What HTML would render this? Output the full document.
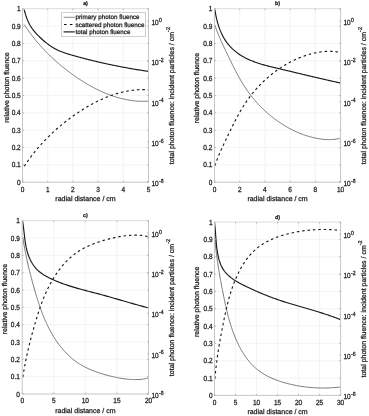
<!DOCTYPE html>
<html><head><meta charset="utf-8"><title>Photon fluence</title>
<style>
html,body{margin:0;padding:0;background:#fff;}
body{width:369px;height:416px;overflow:hidden;font-family:"Liberation Sans",sans-serif;}
svg{display:block;}
text{font-family:"Liberation Sans",sans-serif;text-rendering:geometricPrecision;stroke:#1a1a1a;stroke-width:0.25px;}
svg{filter:grayscale(1);}
</style></head><body>
<svg width="369" height="416" viewBox="0 0 369 416" font-family="'Liberation Sans', sans-serif" font-size="7" fill="#1a1a1a">
<rect width="369" height="416" fill="#fff"/>
<g><path d="M47.70,8.70 V182.20 M72.90,8.70 V182.20 M98.10,8.70 V182.20 M123.30,8.70 V182.20 M22.50,164.85 H148.50 M22.50,147.50 H148.50 M22.50,130.15 H148.50 M22.50,112.80 H148.50 M22.50,95.45 H148.50 M22.50,78.10 H148.50 M22.50,60.75 H148.50 M22.50,43.40 H148.50 M22.50,26.05 H148.50" stroke="#ececec" stroke-width="0.6" fill="none"/>
<path d="M24.20,24.60 L24.63,25.24 L25.05,25.88 L25.48,26.52 L25.91,27.16 L26.34,27.79 L26.78,28.43 L27.21,29.06 L27.66,29.68 L28.10,30.31 L28.54,30.93 L28.99,31.56 L29.44,32.17 L29.90,32.79 L30.35,33.41 L30.81,34.02 L31.27,34.63 L31.73,35.24 L32.20,35.84 L32.67,36.45 L33.14,37.05 L33.61,37.65 L34.08,38.24 L34.56,38.84 L35.04,39.43 L35.52,40.02 L36.01,40.61 L36.49,41.20 L36.98,41.78 L37.48,42.36 L37.97,42.94 L38.47,43.52 L38.97,44.09 L39.47,44.67 L39.97,45.24 L40.48,45.80 L40.98,46.37 L41.49,46.93 L42.01,47.50 L42.52,48.06 L43.04,48.61 L43.56,49.17 L44.08,49.72 L44.60,50.27 L45.13,50.82 L45.66,51.37 L46.19,51.91 L46.72,52.46 L47.26,53.00 L47.79,53.54 L48.33,54.07 L48.87,54.61 L49.42,55.14 L49.96,55.67 L50.51,56.19 L51.06,56.72 L51.61,57.24 L52.17,57.76 L52.73,58.28 L53.28,58.80 L53.84,59.32 L54.41,59.83 L54.97,60.34 L55.54,60.85 L56.11,61.35 L56.68,61.86 L57.25,62.36 L57.83,62.86 L58.40,63.36 L58.98,63.85 L59.56,64.35 L60.15,64.84 L60.73,65.33 L61.32,65.82 L61.91,66.30 L62.50,66.79 L63.09,67.27 L63.69,67.75 L64.28,68.22 L64.88,68.70 L65.48,69.17 L66.09,69.64 L66.69,70.11 L67.30,70.58 L67.91,71.04 L68.52,71.51 L69.13,71.97 L69.74,72.43 L70.36,72.88 L70.98,73.34 L71.60,73.79 L72.22,74.24 L72.84,74.69 L73.47,75.14 L74.09,75.58 L74.72,76.02 L75.35,76.46 L75.98,76.90 L76.62,77.34 L77.25,77.77 L77.89,78.20 L78.53,78.63 L79.17,79.06 L79.81,79.48 L80.46,79.90 L81.10,80.32 L81.75,80.73 L82.40,81.15 L83.05,81.56 L83.71,81.96 L84.36,82.37 L85.02,82.77 L85.68,83.17 L86.34,83.57 L87.00,83.96 L87.66,84.35 L88.32,84.73 L88.99,85.12 L89.66,85.50 L90.33,85.87 L91.00,86.25 L91.67,86.62 L92.35,86.99 L93.02,87.35 L93.70,87.71 L94.38,88.06 L95.06,88.42 L95.74,88.77 L96.43,89.11 L97.11,89.45 L97.80,89.79 L98.49,90.12 L99.18,90.45 L99.87,90.78 L100.56,91.10 L101.26,91.42 L101.95,91.73 L102.65,92.04 L103.35,92.35 L104.05,92.65 L104.75,92.95 L105.46,93.24 L106.16,93.53 L106.87,93.82 L107.58,94.10 L108.29,94.37 L109.00,94.64 L109.71,94.91 L110.42,95.17 L111.14,95.43 L111.85,95.68 L112.57,95.93 L113.29,96.17 L114.01,96.41 L114.73,96.64 L115.46,96.87 L116.18,97.09 L116.91,97.31 L117.64,97.52 L118.36,97.73 L119.09,97.93 L119.83,98.13 L120.56,98.32 L121.29,98.50 L122.03,98.69 L122.76,98.86 L123.50,99.03 L124.24,99.20 L124.98,99.35 L125.72,99.51 L126.47,99.66 L127.21,99.80 L127.96,99.93 L128.70,100.06 L129.45,100.19 L130.20,100.31 L130.95,100.42 L131.70,100.52 L132.45,100.62 L133.21,100.71 L133.96,100.80 L134.72,100.88 L135.48,100.95 L136.23,101.02 L136.99,101.08 L137.75,101.13 L138.52,101.18 L139.28,101.22 L140.04,101.25 L140.81,101.27 L141.57,101.29 L142.34,101.30 L143.10,101.30 L143.87,101.30 L144.64,101.29 L145.41,101.27 L146.18,101.24 L146.96,101.21 L147.73,101.16 L148.50,101.11" stroke="#4c4c4c" stroke-width="0.75" fill="none" stroke-linejoin="round"/>
<path d="M24.20,166.30 L24.63,165.66 L25.05,165.02 L25.48,164.38 L25.91,163.74 L26.34,163.11 L26.78,162.47 L27.21,161.84 L27.66,161.22 L28.10,160.59 L28.54,159.97 L28.99,159.34 L29.44,158.73 L29.90,158.11 L30.35,157.49 L30.81,156.88 L31.27,156.27 L31.73,155.66 L32.20,155.06 L32.67,154.45 L33.14,153.85 L33.61,153.25 L34.08,152.66 L34.56,152.06 L35.04,151.47 L35.52,150.88 L36.01,150.29 L36.49,149.70 L36.98,149.12 L37.48,148.54 L37.97,147.96 L38.47,147.38 L38.97,146.81 L39.47,146.23 L39.97,145.66 L40.48,145.10 L40.98,144.53 L41.49,143.97 L42.01,143.40 L42.52,142.84 L43.04,142.29 L43.56,141.73 L44.08,141.18 L44.60,140.63 L45.13,140.08 L45.66,139.53 L46.19,138.99 L46.72,138.44 L47.26,137.90 L47.79,137.36 L48.33,136.83 L48.87,136.29 L49.42,135.76 L49.96,135.23 L50.51,134.71 L51.06,134.18 L51.61,133.66 L52.17,133.14 L52.73,132.62 L53.28,132.10 L53.84,131.58 L54.41,131.07 L54.97,130.56 L55.54,130.05 L56.11,129.55 L56.68,129.04 L57.25,128.54 L57.83,128.04 L58.40,127.54 L58.98,127.05 L59.56,126.55 L60.15,126.06 L60.73,125.57 L61.32,125.08 L61.91,124.60 L62.50,124.11 L63.09,123.63 L63.69,123.15 L64.28,122.68 L64.88,122.20 L65.48,121.73 L66.09,121.26 L66.69,120.79 L67.30,120.32 L67.91,119.86 L68.52,119.39 L69.13,118.93 L69.74,118.47 L70.36,118.02 L70.98,117.56 L71.60,117.11 L72.22,116.66 L72.84,116.21 L73.47,115.76 L74.09,115.32 L74.72,114.88 L75.35,114.44 L75.98,114.00 L76.62,113.56 L77.25,113.13 L77.89,112.70 L78.53,112.27 L79.17,111.84 L79.81,111.42 L80.46,111.00 L81.10,110.58 L81.75,110.17 L82.40,109.75 L83.05,109.34 L83.71,108.94 L84.36,108.53 L85.02,108.13 L85.68,107.73 L86.34,107.33 L87.00,106.94 L87.66,106.55 L88.32,106.17 L88.99,105.78 L89.66,105.40 L90.33,105.03 L91.00,104.65 L91.67,104.28 L92.35,103.91 L93.02,103.55 L93.70,103.19 L94.38,102.84 L95.06,102.48 L95.74,102.13 L96.43,101.79 L97.11,101.45 L97.80,101.11 L98.49,100.78 L99.18,100.45 L99.87,100.12 L100.56,99.80 L101.26,99.48 L101.95,99.17 L102.65,98.86 L103.35,98.55 L104.05,98.25 L104.75,97.95 L105.46,97.66 L106.16,97.37 L106.87,97.08 L107.58,96.80 L108.29,96.53 L109.00,96.26 L109.71,95.99 L110.42,95.73 L111.14,95.47 L111.85,95.22 L112.57,94.97 L113.29,94.73 L114.01,94.49 L114.73,94.26 L115.46,94.03 L116.18,93.81 L116.91,93.59 L117.64,93.38 L118.36,93.17 L119.09,92.97 L119.83,92.77 L120.56,92.58 L121.29,92.40 L122.03,92.21 L122.76,92.04 L123.50,91.87 L124.24,91.70 L124.98,91.55 L125.72,91.39 L126.47,91.24 L127.21,91.10 L127.96,90.97 L128.70,90.84 L129.45,90.71 L130.20,90.59 L130.95,90.48 L131.70,90.38 L132.45,90.28 L133.21,90.19 L133.96,90.10 L134.72,90.02 L135.48,89.95 L136.23,89.88 L136.99,89.82 L137.75,89.77 L138.52,89.72 L139.28,89.68 L140.04,89.65 L140.81,89.63 L141.57,89.61 L142.34,89.60 L143.10,89.60 L143.87,89.60 L144.64,89.61 L145.41,89.63 L146.18,89.66 L146.96,89.69 L147.73,89.74 L148.50,89.79" stroke="#161616" stroke-width="1.12" fill="none" stroke-dasharray="2.5 2.9" stroke-linejoin="round"/>
<path d="M24.20,9.60 L24.38,10.33 L24.56,11.05 L24.75,11.78 L24.94,12.50 L25.14,13.22 L25.35,13.94 L25.57,14.66 L25.79,15.37 L26.02,16.08 L26.26,16.79 L26.51,17.49 L26.77,18.19 L27.04,18.89 L27.31,19.58 L27.59,20.26 L27.89,20.94 L28.19,21.62 L28.50,22.29 L28.83,22.95 L29.16,23.61 L29.50,24.26 L29.86,24.91 L30.22,25.55 L30.60,26.18 L30.99,26.81 L31.39,27.42 L31.80,28.03 L32.22,28.64 L32.65,29.23 L33.09,29.82 L33.55,30.41 L34.01,30.98 L34.48,31.55 L34.96,32.12 L35.44,32.68 L35.93,33.23 L36.44,33.78 L36.94,34.33 L37.45,34.87 L37.97,35.40 L38.50,35.93 L39.03,36.46 L39.56,36.98 L40.11,37.50 L40.65,38.01 L41.20,38.52 L41.75,39.02 L42.31,39.52 L42.87,40.01 L43.44,40.50 L44.00,40.99 L44.57,41.47 L45.15,41.95 L45.73,42.42 L46.31,42.88 L46.89,43.35 L47.48,43.80 L48.07,44.25 L48.66,44.69 L49.26,45.13 L49.86,45.56 L50.47,45.98 L51.08,46.39 L51.70,46.80 L52.32,47.19 L52.95,47.58 L53.58,47.96 L54.21,48.33 L54.85,48.69 L55.50,49.04 L56.15,49.38 L56.81,49.71 L57.47,50.03 L58.14,50.35 L58.81,50.65 L59.48,50.94 L60.16,51.23 L60.85,51.51 L61.54,51.78 L62.23,52.04 L62.92,52.30 L63.62,52.55 L64.32,52.79 L65.03,53.03 L65.73,53.27 L66.44,53.50 L67.15,53.72 L67.86,53.94 L68.58,54.16 L69.29,54.37 L70.01,54.59 L70.73,54.79 L71.45,55.00 L72.16,55.21 L72.88,55.41 L73.60,55.61 L74.32,55.82 L75.04,56.02 L75.76,56.22 L76.48,56.42 L77.20,56.61 L77.92,56.81 L78.64,57.01 L79.36,57.20 L80.08,57.40 L80.80,57.59 L81.52,57.78 L82.24,57.97 L82.96,58.16 L83.68,58.35 L84.40,58.54 L85.12,58.72 L85.84,58.91 L86.56,59.09 L87.28,59.28 L88.00,59.46 L88.73,59.64 L89.45,59.82 L90.17,60.00 L90.89,60.18 L91.61,60.36 L92.34,60.54 L93.06,60.71 L93.78,60.89 L94.50,61.06 L95.23,61.23 L95.95,61.41 L96.67,61.58 L97.39,61.75 L98.12,61.92 L98.84,62.09 L99.57,62.25 L100.29,62.42 L101.01,62.58 L101.74,62.75 L102.46,62.91 L103.19,63.07 L103.91,63.24 L104.64,63.40 L105.36,63.56 L106.09,63.72 L106.81,63.87 L107.54,64.03 L108.26,64.19 L108.99,64.34 L109.72,64.50 L110.44,64.65 L111.17,64.80 L111.89,64.95 L112.62,65.10 L113.35,65.25 L114.08,65.40 L114.80,65.55 L115.53,65.70 L116.26,65.84 L116.99,65.99 L117.72,66.13 L118.44,66.27 L119.17,66.42 L119.90,66.56 L120.63,66.70 L121.36,66.84 L122.09,66.98 L122.82,67.11 L123.55,67.25 L124.28,67.39 L125.01,67.52 L125.74,67.66 L126.47,67.79 L127.20,67.92 L127.93,68.05 L128.66,68.19 L129.39,68.32 L130.13,68.44 L130.86,68.57 L131.59,68.70 L132.32,68.83 L133.06,68.95 L133.79,69.08 L134.52,69.20 L135.26,69.32 L135.99,69.45 L136.72,69.57 L137.46,69.69 L138.19,69.81 L138.93,69.93 L139.66,70.05 L140.40,70.16 L141.13,70.28 L141.87,70.40 L142.60,70.51 L143.34,70.62 L144.08,70.74 L144.81,70.85 L145.55,70.96 L146.29,71.07 L147.02,71.18 L147.76,71.29 L148.50,71.40" stroke="#181818" stroke-width="1.15" fill="none" stroke-linejoin="round"/>
<path d="M22.00,8.70 H149.00" stroke="#dcdcdc" stroke-width="1" fill="none"/>
<path d="M22.50,9.20 V182.20 H148.50 V9.20" stroke="#c6c6c6" stroke-width="1" fill="none" stroke-linejoin="miter"/>
<text transform="translate(22.50,191.60) scale(0.93,1.06)" text-anchor="middle">0</text>
<text transform="translate(47.70,191.60) scale(0.93,1.06)" text-anchor="middle">1</text>
<text transform="translate(72.90,191.60) scale(0.93,1.06)" text-anchor="middle">2</text>
<text transform="translate(98.10,191.60) scale(0.93,1.06)" text-anchor="middle">3</text>
<text transform="translate(123.30,191.60) scale(0.93,1.06)" text-anchor="middle">4</text>
<text transform="translate(148.50,191.60) scale(0.93,1.06)" text-anchor="middle">5</text>
<text transform="translate(20.70,184.80) scale(0.93,1.06)" text-anchor="end">0</text>
<text transform="translate(20.70,167.45) scale(0.93,1.06)" text-anchor="end">0.1</text>
<text transform="translate(20.70,150.10) scale(0.93,1.06)" text-anchor="end">0.2</text>
<text transform="translate(20.70,132.75) scale(0.93,1.06)" text-anchor="end">0.3</text>
<text transform="translate(20.70,115.40) scale(0.93,1.06)" text-anchor="end">0.4</text>
<text transform="translate(20.70,98.05) scale(0.93,1.06)" text-anchor="end">0.5</text>
<text transform="translate(20.70,80.70) scale(0.93,1.06)" text-anchor="end">0.6</text>
<text transform="translate(20.70,63.35) scale(0.93,1.06)" text-anchor="end">0.7</text>
<text transform="translate(20.70,46.00) scale(0.93,1.06)" text-anchor="end">0.8</text>
<text transform="translate(20.70,28.65) scale(0.93,1.06)" text-anchor="end">0.9</text>
<text transform="translate(20.70,11.30) scale(0.93,1.06)" text-anchor="end">1</text>
<text transform="translate(151.40,186.10) scale(0.93,1.06)">10<tspan font-size="5.6" dy="-3.0" dx="0.4">-8</tspan></text>
<text transform="translate(151.40,145.80) scale(0.93,1.06)">10<tspan font-size="5.6" dy="-3.0" dx="0.4">-6</tspan></text>
<text transform="translate(151.40,105.50) scale(0.93,1.06)">10<tspan font-size="5.6" dy="-3.0" dx="0.4">-4</tspan></text>
<text transform="translate(151.40,65.20) scale(0.93,1.06)">10<tspan font-size="5.6" dy="-3.0" dx="0.4">-2</tspan></text>
<text transform="translate(151.40,24.90) scale(0.93,1.06)">10<tspan font-size="5.6" dy="-3.0" dx="0.4">0</tspan></text>
<path d="M22.50,182.20 v-1.50 M22.50,8.70 v1.50 M47.70,182.20 v-1.50 M47.70,8.70 v1.50 M72.90,182.20 v-1.50 M72.90,8.70 v1.50 M98.10,182.20 v-1.50 M98.10,8.70 v1.50 M123.30,182.20 v-1.50 M123.30,8.70 v1.50 M148.50,182.20 v-1.50 M148.50,8.70 v1.50 M22.50,182.20 h1.50 M148.50,182.20 h-1.50 M22.50,164.85 h1.50 M148.50,164.85 h-1.50 M22.50,147.50 h1.50 M148.50,147.50 h-1.50 M22.50,130.15 h1.50 M148.50,130.15 h-1.50 M22.50,112.80 h1.50 M148.50,112.80 h-1.50 M22.50,95.45 h1.50 M148.50,95.45 h-1.50 M22.50,78.10 h1.50 M148.50,78.10 h-1.50 M22.50,60.75 h1.50 M148.50,60.75 h-1.50 M22.50,43.40 h1.50 M148.50,43.40 h-1.50 M22.50,26.05 h1.50 M148.50,26.05 h-1.50 M22.50,8.70 h1.50 M148.50,8.70 h-1.50 M148.50,182.20 h-1.50 M148.50,141.90 h-1.50 M148.50,101.60 h-1.50 M148.50,61.30 h-1.50 M148.50,21.00 h-1.50" stroke="#a4a4a4" stroke-width="0.7" fill="none"/>
<text x="85.50" y="200.80" text-anchor="middle">radial distance / cm</text>
<text x="85.50" y="5.40" text-anchor="middle" font-weight="bold" font-size="5.3" stroke-width="0.1">a)</text>
<text transform="translate(8.55,87.50) rotate(-90)" text-anchor="middle">relative photon fluence</text>
<text transform="translate(173.70,95.65) rotate(-90)" text-anchor="middle">total photon fluence: incident particles / cm<tspan font-size="5.5" dy="-3.9">-2</tspan></text></g>
<g><path d="M239.72,8.70 V182.20 M264.94,8.70 V182.20 M290.16,8.70 V182.20 M315.38,8.70 V182.20 M214.50,164.85 H340.60 M214.50,147.50 H340.60 M214.50,130.15 H340.60 M214.50,112.80 H340.60 M214.50,95.45 H340.60 M214.50,78.10 H340.60 M214.50,60.75 H340.60 M214.50,43.40 H340.60 M214.50,26.05 H340.60" stroke="#ececec" stroke-width="0.6" fill="none"/>
<path d="M214.89,25.20 L215.18,26.08 L215.48,26.95 L215.79,27.82 L216.10,28.68 L216.42,29.55 L216.74,30.41 L217.07,31.27 L217.40,32.13 L217.74,32.98 L218.08,33.83 L218.42,34.68 L218.77,35.53 L219.13,36.38 L219.49,37.23 L219.85,38.07 L220.22,38.91 L220.59,39.75 L220.96,40.59 L221.33,41.43 L221.71,42.27 L222.09,43.11 L222.48,43.94 L222.86,44.78 L223.25,45.61 L223.64,46.44 L224.04,47.28 L224.43,48.11 L224.82,48.94 L225.22,49.77 L225.62,50.60 L226.01,51.44 L226.41,52.27 L226.81,53.10 L227.21,53.93 L227.61,54.76 L228.01,55.59 L228.41,56.42 L228.81,57.26 L229.21,58.09 L229.61,58.92 L230.01,59.75 L230.42,60.58 L230.82,61.41 L231.23,62.24 L231.63,63.07 L232.04,63.90 L232.45,64.73 L232.86,65.56 L233.27,66.38 L233.69,67.21 L234.10,68.03 L234.52,68.86 L234.94,69.68 L235.36,70.50 L235.79,71.32 L236.22,72.13 L236.65,72.95 L237.08,73.76 L237.52,74.57 L237.96,75.38 L238.40,76.19 L238.85,77.00 L239.30,77.80 L239.75,78.60 L240.21,79.40 L240.67,80.20 L241.13,80.99 L241.60,81.78 L242.07,82.57 L242.55,83.36 L243.03,84.14 L243.52,84.92 L244.01,85.69 L244.51,86.47 L245.01,87.24 L245.51,88.00 L246.03,88.77 L246.54,89.53 L247.06,90.28 L247.59,91.03 L248.13,91.78 L248.66,92.53 L249.21,93.27 L249.76,94.00 L250.31,94.74 L250.87,95.47 L251.44,96.19 L252.01,96.91 L252.59,97.63 L253.17,98.34 L253.76,99.05 L254.35,99.75 L254.95,100.45 L255.55,101.15 L256.16,101.84 L256.77,102.53 L257.39,103.21 L258.01,103.89 L258.64,104.56 L259.27,105.23 L259.91,105.90 L260.55,106.56 L261.20,107.21 L261.85,107.86 L262.51,108.51 L263.17,109.15 L263.83,109.79 L264.51,110.42 L265.18,111.04 L265.86,111.67 L266.55,112.28 L267.24,112.89 L267.93,113.50 L268.63,114.10 L269.34,114.70 L270.05,115.29 L270.76,115.88 L271.48,116.46 L272.20,117.03 L272.93,117.60 L273.66,118.17 L274.39,118.73 L275.13,119.28 L275.88,119.83 L276.63,120.37 L277.38,120.91 L278.14,121.44 L278.90,121.97 L279.66,122.49 L280.43,123.00 L281.21,123.51 L281.98,124.01 L282.77,124.51 L283.55,125.00 L284.34,125.48 L285.14,125.96 L285.93,126.43 L286.73,126.90 L287.54,127.35 L288.35,127.80 L289.16,128.25 L289.98,128.69 L290.79,129.12 L291.62,129.54 L292.44,129.96 L293.27,130.37 L294.10,130.77 L294.94,131.16 L295.78,131.55 L296.62,131.93 L297.47,132.30 L298.32,132.66 L299.17,133.02 L300.02,133.37 L300.88,133.71 L301.74,134.04 L302.60,134.36 L303.47,134.68 L304.34,134.98 L305.21,135.28 L306.08,135.57 L306.96,135.85 L307.84,136.12 L308.72,136.38 L309.60,136.64 L310.49,136.88 L311.38,137.12 L312.27,137.35 L313.16,137.56 L314.05,137.77 L314.95,137.97 L315.85,138.16 L316.75,138.34 L317.65,138.51 L318.56,138.67 L319.47,138.81 L320.37,138.95 L321.28,139.08 L322.19,139.19 L323.11,139.29 L324.02,139.38 L324.93,139.45 L325.85,139.51 L326.76,139.56 L327.68,139.59 L328.60,139.61 L329.51,139.61 L330.43,139.60 L331.35,139.57 L332.27,139.52 L333.18,139.46 L334.10,139.38 L335.02,139.28 L335.93,139.17 L336.85,139.03 L337.76,138.88 L338.68,138.71 L339.59,138.52 L340.50,138.31" stroke="#4c4c4c" stroke-width="0.75" fill="none" stroke-linejoin="round"/>
<path d="M214.89,165.70 L215.18,164.82 L215.48,163.95 L215.79,163.08 L216.10,162.22 L216.42,161.35 L216.74,160.49 L217.07,159.63 L217.40,158.77 L217.74,157.92 L218.08,157.07 L218.42,156.22 L218.77,155.37 L219.13,154.52 L219.49,153.67 L219.85,152.83 L220.22,151.99 L220.59,151.15 L220.96,150.31 L221.33,149.47 L221.71,148.63 L222.09,147.79 L222.48,146.96 L222.86,146.12 L223.25,145.29 L223.64,144.46 L224.04,143.62 L224.43,142.79 L224.82,141.96 L225.22,141.13 L225.62,140.30 L226.01,139.46 L226.41,138.63 L226.81,137.80 L227.21,136.97 L227.61,136.14 L228.01,135.31 L228.41,134.48 L228.81,133.64 L229.21,132.81 L229.61,131.98 L230.01,131.15 L230.42,130.32 L230.82,129.49 L231.23,128.66 L231.63,127.83 L232.04,127.00 L232.45,126.17 L232.86,125.34 L233.27,124.52 L233.69,123.69 L234.10,122.87 L234.52,122.04 L234.94,121.22 L235.36,120.40 L235.79,119.58 L236.22,118.77 L236.65,117.95 L237.08,117.14 L237.52,116.33 L237.96,115.52 L238.40,114.71 L238.85,113.90 L239.30,113.10 L239.75,112.30 L240.21,111.50 L240.67,110.70 L241.13,109.91 L241.60,109.12 L242.07,108.33 L242.55,107.54 L243.03,106.76 L243.52,105.98 L244.01,105.21 L244.51,104.43 L245.01,103.66 L245.51,102.90 L246.03,102.13 L246.54,101.37 L247.06,100.62 L247.59,99.87 L248.13,99.12 L248.66,98.37 L249.21,97.63 L249.76,96.90 L250.31,96.16 L250.87,95.43 L251.44,94.71 L252.01,93.99 L252.59,93.27 L253.17,92.56 L253.76,91.85 L254.35,91.15 L254.95,90.45 L255.55,89.75 L256.16,89.06 L256.77,88.37 L257.39,87.69 L258.01,87.01 L258.64,86.34 L259.27,85.67 L259.91,85.00 L260.55,84.34 L261.20,83.69 L261.85,83.04 L262.51,82.39 L263.17,81.75 L263.83,81.11 L264.51,80.48 L265.18,79.86 L265.86,79.23 L266.55,78.62 L267.24,78.01 L267.93,77.40 L268.63,76.80 L269.34,76.20 L270.05,75.61 L270.76,75.02 L271.48,74.44 L272.20,73.87 L272.93,73.30 L273.66,72.73 L274.39,72.17 L275.13,71.62 L275.88,71.07 L276.63,70.53 L277.38,69.99 L278.14,69.46 L278.90,68.93 L279.66,68.41 L280.43,67.90 L281.21,67.39 L281.98,66.89 L282.77,66.39 L283.55,65.90 L284.34,65.42 L285.14,64.94 L285.93,64.47 L286.73,64.00 L287.54,63.55 L288.35,63.10 L289.16,62.65 L289.98,62.21 L290.79,61.78 L291.62,61.36 L292.44,60.94 L293.27,60.53 L294.10,60.13 L294.94,59.74 L295.78,59.35 L296.62,58.97 L297.47,58.60 L298.32,58.24 L299.17,57.88 L300.02,57.53 L300.88,57.19 L301.74,56.86 L302.60,56.54 L303.47,56.22 L304.34,55.92 L305.21,55.62 L306.08,55.33 L306.96,55.05 L307.84,54.78 L308.72,54.52 L309.60,54.26 L310.49,54.02 L311.38,53.78 L312.27,53.55 L313.16,53.34 L314.05,53.13 L314.95,52.93 L315.85,52.74 L316.75,52.56 L317.65,52.39 L318.56,52.23 L319.47,52.09 L320.37,51.95 L321.28,51.82 L322.19,51.71 L323.11,51.61 L324.02,51.52 L324.93,51.45 L325.85,51.39 L326.76,51.34 L327.68,51.31 L328.60,51.29 L329.51,51.29 L330.43,51.30 L331.35,51.33 L332.27,51.38 L333.18,51.44 L334.10,51.52 L335.02,51.62 L335.93,51.73 L336.85,51.87 L337.76,52.02 L338.68,52.19 L339.59,52.38 L340.50,52.59" stroke="#161616" stroke-width="1.12" fill="none" stroke-dasharray="2.5 2.9" stroke-linejoin="round"/>
<path d="M214.91,9.60 L215.02,10.37 L215.14,11.14 L215.26,11.91 L215.39,12.68 L215.52,13.46 L215.66,14.24 L215.81,15.01 L215.96,15.79 L216.12,16.57 L216.28,17.35 L216.46,18.13 L216.63,18.91 L216.82,19.69 L217.01,20.47 L217.21,21.24 L217.42,22.02 L217.63,22.79 L217.85,23.57 L218.08,24.34 L218.32,25.11 L218.56,25.87 L218.82,26.64 L219.08,27.40 L219.35,28.15 L219.63,28.91 L219.91,29.66 L220.21,30.41 L220.51,31.15 L220.83,31.89 L221.15,32.62 L221.48,33.35 L221.83,34.07 L222.18,34.79 L222.54,35.50 L222.91,36.21 L223.29,36.91 L223.68,37.61 L224.08,38.30 L224.50,38.98 L224.92,39.65 L225.35,40.32 L225.79,40.98 L226.24,41.63 L226.70,42.28 L227.18,42.91 L227.66,43.54 L228.15,44.17 L228.65,44.78 L229.16,45.38 L229.67,45.98 L230.20,46.56 L230.74,47.14 L231.28,47.71 L231.84,48.27 L232.40,48.82 L232.98,49.36 L233.56,49.89 L234.15,50.41 L234.75,50.92 L235.35,51.42 L235.96,51.91 L236.58,52.39 L237.21,52.87 L237.84,53.33 L238.48,53.78 L239.13,54.23 L239.78,54.66 L240.44,55.09 L241.10,55.50 L241.77,55.91 L242.45,56.31 L243.13,56.70 L243.81,57.08 L244.50,57.46 L245.19,57.82 L245.89,58.18 L246.60,58.53 L247.31,58.88 L248.02,59.21 L248.73,59.54 L249.46,59.86 L250.18,60.18 L250.91,60.48 L251.64,60.79 L252.38,61.08 L253.12,61.37 L253.86,61.65 L254.61,61.93 L255.35,62.20 L256.11,62.47 L256.86,62.73 L257.62,62.99 L258.38,63.24 L259.14,63.49 L259.91,63.73 L260.67,63.96 L261.44,64.20 L262.21,64.43 L262.99,64.65 L263.76,64.87 L264.54,65.09 L265.32,65.31 L266.10,65.52 L266.88,65.73 L267.66,65.93 L268.44,66.13 L269.22,66.34 L270.01,66.53 L270.79,66.73 L271.58,66.92 L272.36,67.12 L273.15,67.31 L273.94,67.50 L274.72,67.68 L275.51,67.87 L276.29,68.06 L277.08,68.24 L277.86,68.42 L278.65,68.61 L279.43,68.79 L280.21,68.98 L280.99,69.16 L281.77,69.34 L282.55,69.53 L283.33,69.71 L284.11,69.89 L284.89,70.08 L285.66,70.26 L286.44,70.44 L287.21,70.63 L287.99,70.81 L288.76,71.00 L289.53,71.18 L290.30,71.36 L291.07,71.55 L291.85,71.73 L292.62,71.91 L293.39,72.10 L294.15,72.28 L294.92,72.46 L295.69,72.65 L296.46,72.83 L297.23,73.01 L297.99,73.20 L298.76,73.38 L299.53,73.56 L300.29,73.75 L301.06,73.93 L301.83,74.11 L302.59,74.29 L303.36,74.48 L304.12,74.66 L304.89,74.84 L305.65,75.02 L306.42,75.20 L307.18,75.39 L307.95,75.57 L308.71,75.75 L309.48,75.93 L310.24,76.11 L311.01,76.29 L311.78,76.47 L312.54,76.65 L313.31,76.83 L314.08,77.01 L314.84,77.19 L315.61,77.37 L316.38,77.55 L317.14,77.73 L317.91,77.91 L318.68,78.09 L319.45,78.27 L320.22,78.45 L320.99,78.63 L321.76,78.81 L322.53,78.98 L323.31,79.16 L324.08,79.34 L324.85,79.52 L325.63,79.69 L326.40,79.87 L327.18,80.05 L327.95,80.22 L328.73,80.40 L329.51,80.58 L330.29,80.75 L331.07,80.93 L331.85,81.10 L332.63,81.28 L333.41,81.45 L334.19,81.62 L334.98,81.80 L335.76,81.97 L336.55,82.14 L337.34,82.32 L338.13,82.49 L338.92,82.66 L339.71,82.83 L340.50,83.00" stroke="#181818" stroke-width="1.15" fill="none" stroke-linejoin="round"/>
<path d="M214.00,8.70 H341.10" stroke="#dcdcdc" stroke-width="1" fill="none"/>
<path d="M214.50,9.20 V182.20 H340.60 V9.20" stroke="#c6c6c6" stroke-width="1" fill="none" stroke-linejoin="miter"/>
<text transform="translate(214.50,191.60) scale(0.93,1.06)" text-anchor="middle">0</text>
<text transform="translate(239.72,191.60) scale(0.93,1.06)" text-anchor="middle">2</text>
<text transform="translate(264.94,191.60) scale(0.93,1.06)" text-anchor="middle">4</text>
<text transform="translate(290.16,191.60) scale(0.93,1.06)" text-anchor="middle">6</text>
<text transform="translate(315.38,191.60) scale(0.93,1.06)" text-anchor="middle">8</text>
<text transform="translate(340.60,191.60) scale(0.93,1.06)" text-anchor="middle">10</text>
<text transform="translate(212.40,184.80) scale(0.93,1.06)" text-anchor="end">0</text>
<text transform="translate(212.40,167.45) scale(0.93,1.06)" text-anchor="end">0.1</text>
<text transform="translate(212.40,150.10) scale(0.93,1.06)" text-anchor="end">0.2</text>
<text transform="translate(212.40,132.75) scale(0.93,1.06)" text-anchor="end">0.3</text>
<text transform="translate(212.40,115.40) scale(0.93,1.06)" text-anchor="end">0.4</text>
<text transform="translate(212.40,98.05) scale(0.93,1.06)" text-anchor="end">0.5</text>
<text transform="translate(212.40,80.70) scale(0.93,1.06)" text-anchor="end">0.6</text>
<text transform="translate(212.40,63.35) scale(0.93,1.06)" text-anchor="end">0.7</text>
<text transform="translate(212.40,46.00) scale(0.93,1.06)" text-anchor="end">0.8</text>
<text transform="translate(212.40,28.65) scale(0.93,1.06)" text-anchor="end">0.9</text>
<text transform="translate(212.40,11.30) scale(0.93,1.06)" text-anchor="end">1</text>
<text transform="translate(343.50,186.10) scale(0.93,1.06)">10<tspan font-size="5.6" dy="-3.0" dx="0.4">-8</tspan></text>
<text transform="translate(343.50,145.80) scale(0.93,1.06)">10<tspan font-size="5.6" dy="-3.0" dx="0.4">-6</tspan></text>
<text transform="translate(343.50,105.50) scale(0.93,1.06)">10<tspan font-size="5.6" dy="-3.0" dx="0.4">-4</tspan></text>
<text transform="translate(343.50,65.20) scale(0.93,1.06)">10<tspan font-size="5.6" dy="-3.0" dx="0.4">-2</tspan></text>
<text transform="translate(343.50,24.90) scale(0.93,1.06)">10<tspan font-size="5.6" dy="-3.0" dx="0.4">0</tspan></text>
<path d="M214.50,182.20 v-1.50 M214.50,8.70 v1.50 M239.72,182.20 v-1.50 M239.72,8.70 v1.50 M264.94,182.20 v-1.50 M264.94,8.70 v1.50 M290.16,182.20 v-1.50 M290.16,8.70 v1.50 M315.38,182.20 v-1.50 M315.38,8.70 v1.50 M340.60,182.20 v-1.50 M340.60,8.70 v1.50 M214.50,182.20 h1.50 M340.60,182.20 h-1.50 M214.50,164.85 h1.50 M340.60,164.85 h-1.50 M214.50,147.50 h1.50 M340.60,147.50 h-1.50 M214.50,130.15 h1.50 M340.60,130.15 h-1.50 M214.50,112.80 h1.50 M340.60,112.80 h-1.50 M214.50,95.45 h1.50 M340.60,95.45 h-1.50 M214.50,78.10 h1.50 M340.60,78.10 h-1.50 M214.50,60.75 h1.50 M340.60,60.75 h-1.50 M214.50,43.40 h1.50 M340.60,43.40 h-1.50 M214.50,26.05 h1.50 M340.60,26.05 h-1.50 M214.50,8.70 h1.50 M340.60,8.70 h-1.50 M340.60,182.20 h-1.50 M340.60,141.90 h-1.50 M340.60,101.60 h-1.50 M340.60,61.30 h-1.50 M340.60,21.00 h-1.50" stroke="#a4a4a4" stroke-width="0.7" fill="none"/>
<text x="277.55" y="200.80" text-anchor="middle">radial distance / cm</text>
<text x="277.55" y="5.40" text-anchor="middle" font-weight="bold" font-size="5.3" stroke-width="0.1">b)</text>
<text transform="translate(198.80,88.00) rotate(-90)" text-anchor="middle">relative photon fluence</text>
<text transform="translate(365.80,95.65) rotate(-90)" text-anchor="middle">total photon fluence: incident particles / cm<tspan font-size="5.5" dy="-3.9">-2</tspan></text></g>
<g><path d="M53.77,220.70 V394.00 M85.35,220.70 V394.00 M116.92,220.70 V394.00 M22.20,376.67 H148.50 M22.20,359.34 H148.50 M22.20,342.01 H148.50 M22.20,324.68 H148.50 M22.20,307.35 H148.50 M22.20,290.02 H148.50 M22.20,272.69 H148.50 M22.20,255.36 H148.50 M22.20,238.03 H148.50" stroke="#ececec" stroke-width="0.6" fill="none"/>
<path d="M22.90,237.60 L23.05,238.67 L23.21,239.73 L23.37,240.79 L23.54,241.86 L23.71,242.92 L23.89,243.98 L24.07,245.04 L24.25,246.10 L24.43,247.16 L24.62,248.22 L24.82,249.27 L25.02,250.33 L25.22,251.39 L25.42,252.44 L25.63,253.50 L25.84,254.55 L26.06,255.61 L26.27,256.66 L26.49,257.71 L26.72,258.76 L26.95,259.81 L27.18,260.87 L27.41,261.92 L27.65,262.96 L27.89,264.01 L28.13,265.06 L28.38,266.11 L28.63,267.16 L28.88,268.20 L29.13,269.25 L29.39,270.30 L29.65,271.34 L29.91,272.39 L30.17,273.43 L30.44,274.47 L30.71,275.52 L30.98,276.56 L31.25,277.60 L31.53,278.64 L31.81,279.68 L32.09,280.73 L32.37,281.77 L32.65,282.81 L32.94,283.85 L33.23,284.89 L33.52,285.92 L33.81,286.96 L34.10,288.00 L34.40,289.04 L34.70,290.08 L35.00,291.11 L35.30,292.15 L35.60,293.18 L35.91,294.22 L36.22,295.25 L36.53,296.28 L36.84,297.32 L37.16,298.35 L37.48,299.37 L37.81,300.40 L38.14,301.43 L38.47,302.45 L38.80,303.48 L39.14,304.50 L39.49,305.52 L39.84,306.54 L40.19,307.55 L40.55,308.56 L40.91,309.58 L41.28,310.59 L41.65,311.59 L42.03,312.60 L42.41,313.60 L42.80,314.60 L43.19,315.60 L43.59,316.59 L44.00,317.58 L44.41,318.57 L44.83,319.55 L45.26,320.54 L45.69,321.51 L46.13,322.49 L46.57,323.46 L47.03,324.43 L47.49,325.40 L47.95,326.36 L48.43,327.32 L48.91,328.27 L49.40,329.22 L49.90,330.17 L50.41,331.11 L50.92,332.05 L51.45,332.98 L51.98,333.91 L52.52,334.83 L53.07,335.75 L53.63,336.67 L54.20,337.58 L54.78,338.48 L55.37,339.39 L55.96,340.28 L56.57,341.17 L57.19,342.06 L57.81,342.94 L58.45,343.81 L59.10,344.68 L59.76,345.55 L60.43,346.41 L61.11,347.26 L61.80,348.11 L62.50,348.94 L63.21,349.77 L63.93,350.59 L64.67,351.41 L65.41,352.21 L66.16,353.00 L66.92,353.79 L67.69,354.56 L68.47,355.32 L69.27,356.07 L70.07,356.80 L70.88,357.53 L71.69,358.23 L72.52,358.93 L73.36,359.61 L74.21,360.28 L75.06,360.92 L75.93,361.56 L76.80,362.18 L77.68,362.78 L78.57,363.37 L79.47,363.94 L80.37,364.50 L81.29,365.04 L82.21,365.57 L83.14,366.09 L84.07,366.59 L85.02,367.08 L85.96,367.56 L86.92,368.03 L87.88,368.48 L88.85,368.92 L89.82,369.35 L90.80,369.77 L91.79,370.18 L92.78,370.58 L93.78,370.97 L94.78,371.35 L95.78,371.72 L96.79,372.08 L97.81,372.43 L98.83,372.77 L99.85,373.11 L100.87,373.43 L101.90,373.75 L102.94,374.06 L103.97,374.37 L105.01,374.67 L106.06,374.96 L107.10,375.25 L108.15,375.53 L109.20,375.80 L110.25,376.07 L111.30,376.32 L112.36,376.58 L113.42,376.82 L114.48,377.06 L115.54,377.28 L116.60,377.50 L117.67,377.71 L118.73,377.91 L119.80,378.10 L120.86,378.28 L121.93,378.45 L123.00,378.61 L124.07,378.76 L125.14,378.90 L126.21,379.03 L127.29,379.14 L128.36,379.24 L129.43,379.33 L130.50,379.41 L131.57,379.47 L132.64,379.52 L133.72,379.56 L134.79,379.58 L135.86,379.59 L136.93,379.58 L137.99,379.56 L139.06,379.51 L140.12,379.44 L141.19,379.34 L142.24,379.22 L143.30,379.06 L144.35,378.87 L145.39,378.64 L146.44,378.37 L147.47,378.06 L148.50,377.71" stroke="#4c4c4c" stroke-width="0.75" fill="none" stroke-linejoin="round"/>
<path d="M22.90,377.10 L23.05,376.03 L23.21,374.97 L23.37,373.91 L23.54,372.84 L23.71,371.78 L23.89,370.72 L24.07,369.66 L24.25,368.60 L24.43,367.54 L24.62,366.48 L24.82,365.43 L25.02,364.37 L25.22,363.31 L25.42,362.26 L25.63,361.20 L25.84,360.15 L26.06,359.09 L26.27,358.04 L26.49,356.99 L26.72,355.94 L26.95,354.89 L27.18,353.83 L27.41,352.78 L27.65,351.74 L27.89,350.69 L28.13,349.64 L28.38,348.59 L28.63,347.54 L28.88,346.50 L29.13,345.45 L29.39,344.40 L29.65,343.36 L29.91,342.31 L30.17,341.27 L30.44,340.23 L30.71,339.18 L30.98,338.14 L31.25,337.10 L31.53,336.06 L31.81,335.02 L32.09,333.97 L32.37,332.93 L32.65,331.89 L32.94,330.85 L33.23,329.81 L33.52,328.78 L33.81,327.74 L34.10,326.70 L34.40,325.66 L34.70,324.62 L35.00,323.59 L35.30,322.55 L35.60,321.52 L35.91,320.48 L36.22,319.45 L36.53,318.42 L36.84,317.38 L37.16,316.35 L37.48,315.33 L37.81,314.30 L38.14,313.27 L38.47,312.25 L38.80,311.22 L39.14,310.20 L39.49,309.18 L39.84,308.16 L40.19,307.15 L40.55,306.14 L40.91,305.12 L41.28,304.11 L41.65,303.11 L42.03,302.10 L42.41,301.10 L42.80,300.10 L43.19,299.10 L43.59,298.11 L44.00,297.12 L44.41,296.13 L44.83,295.15 L45.26,294.16 L45.69,293.19 L46.13,292.21 L46.57,291.24 L47.03,290.27 L47.49,289.30 L47.95,288.34 L48.43,287.38 L48.91,286.43 L49.40,285.48 L49.90,284.53 L50.41,283.59 L50.92,282.65 L51.45,281.72 L51.98,280.79 L52.52,279.87 L53.07,278.95 L53.63,278.03 L54.20,277.12 L54.78,276.22 L55.37,275.31 L55.96,274.42 L56.57,273.53 L57.19,272.64 L57.81,271.76 L58.45,270.89 L59.10,270.02 L59.76,269.15 L60.43,268.29 L61.11,267.44 L61.80,266.59 L62.50,265.76 L63.21,264.93 L63.93,264.11 L64.67,263.29 L65.41,262.49 L66.16,261.70 L66.92,260.91 L67.69,260.14 L68.47,259.38 L69.27,258.63 L70.07,257.90 L70.88,257.17 L71.69,256.47 L72.52,255.77 L73.36,255.09 L74.21,254.42 L75.06,253.78 L75.93,253.14 L76.80,252.52 L77.68,251.92 L78.57,251.33 L79.47,250.76 L80.37,250.20 L81.29,249.66 L82.21,249.13 L83.14,248.61 L84.07,248.11 L85.02,247.62 L85.96,247.14 L86.92,246.67 L87.88,246.22 L88.85,245.78 L89.82,245.35 L90.80,244.93 L91.79,244.52 L92.78,244.12 L93.78,243.73 L94.78,243.35 L95.78,242.98 L96.79,242.62 L97.81,242.27 L98.83,241.93 L99.85,241.59 L100.87,241.27 L101.90,240.95 L102.94,240.64 L103.97,240.33 L105.01,240.03 L106.06,239.74 L107.10,239.45 L108.15,239.17 L109.20,238.90 L110.25,238.63 L111.30,238.38 L112.36,238.12 L113.42,237.88 L114.48,237.64 L115.54,237.42 L116.60,237.20 L117.67,236.99 L118.73,236.79 L119.80,236.60 L120.86,236.42 L121.93,236.25 L123.00,236.09 L124.07,235.94 L125.14,235.80 L126.21,235.67 L127.29,235.56 L128.36,235.46 L129.43,235.37 L130.50,235.29 L131.57,235.23 L132.64,235.18 L133.72,235.14 L134.79,235.12 L135.86,235.11 L136.93,235.12 L137.99,235.14 L139.06,235.19 L140.12,235.26 L141.19,235.36 L142.24,235.48 L143.30,235.64 L144.35,235.83 L145.39,236.06 L146.44,236.33 L147.47,236.64 L148.50,236.99" stroke="#161616" stroke-width="1.12" fill="none" stroke-dasharray="2.5 2.9" stroke-linejoin="round"/>
<path d="M22.60,221.30 L22.73,222.11 L22.86,222.93 L22.99,223.74 L23.10,224.57 L23.22,225.40 L23.33,226.23 L23.44,227.07 L23.54,227.91 L23.64,228.75 L23.74,229.60 L23.84,230.45 L23.94,231.30 L24.03,232.16 L24.13,233.02 L24.23,233.88 L24.32,234.74 L24.42,235.60 L24.53,236.46 L24.63,237.33 L24.74,238.19 L24.85,239.06 L24.96,239.92 L25.08,240.79 L25.21,241.65 L25.34,242.51 L25.48,243.37 L25.62,244.23 L25.77,245.09 L25.93,245.94 L26.10,246.79 L26.27,247.64 L26.46,248.49 L26.65,249.33 L26.86,250.17 L27.07,251.00 L27.30,251.83 L27.54,252.66 L27.79,253.48 L28.05,254.30 L28.33,255.11 L28.62,255.91 L28.92,256.71 L29.24,257.50 L29.58,258.29 L29.93,259.06 L30.29,259.83 L30.67,260.59 L31.06,261.35 L31.47,262.09 L31.90,262.82 L32.34,263.55 L32.79,264.26 L33.26,264.96 L33.74,265.65 L34.24,266.33 L34.76,266.99 L35.29,267.64 L35.83,268.28 L36.40,268.90 L36.97,269.51 L37.56,270.10 L38.17,270.68 L38.80,271.24 L39.43,271.78 L40.09,272.31 L40.76,272.83 L41.44,273.32 L42.13,273.81 L42.84,274.28 L43.56,274.73 L44.28,275.18 L45.02,275.61 L45.76,276.04 L46.51,276.45 L47.26,276.85 L48.02,277.25 L48.79,277.64 L49.55,278.02 L50.32,278.40 L51.10,278.77 L51.87,279.13 L52.65,279.49 L53.43,279.85 L54.21,280.19 L54.99,280.54 L55.78,280.87 L56.57,281.20 L57.36,281.53 L58.15,281.85 L58.94,282.17 L59.74,282.48 L60.54,282.79 L61.33,283.09 L62.14,283.39 L62.94,283.68 L63.74,283.97 L64.55,284.25 L65.36,284.54 L66.17,284.81 L66.98,285.09 L67.79,285.36 L68.60,285.62 L69.42,285.89 L70.24,286.15 L71.05,286.40 L71.87,286.66 L72.69,286.91 L73.51,287.16 L74.33,287.40 L75.16,287.64 L75.98,287.88 L76.80,288.12 L77.63,288.36 L78.45,288.59 L79.28,288.82 L80.11,289.05 L80.94,289.28 L81.76,289.51 L82.59,289.73 L83.42,289.96 L84.25,290.18 L85.08,290.40 L85.91,290.62 L86.74,290.84 L87.57,291.06 L88.40,291.27 L89.23,291.49 L90.07,291.71 L90.90,291.92 L91.73,292.14 L92.56,292.35 L93.39,292.57 L94.22,292.78 L95.05,293.00 L95.88,293.22 L96.71,293.43 L97.54,293.65 L98.36,293.87 L99.19,294.09 L100.02,294.31 L100.85,294.53 L101.67,294.75 L102.50,294.97 L103.32,295.20 L104.14,295.42 L104.97,295.65 L105.79,295.88 L106.61,296.10 L107.43,296.33 L108.25,296.56 L109.07,296.80 L109.89,297.03 L110.71,297.26 L111.53,297.49 L112.35,297.73 L113.17,297.96 L113.99,298.20 L114.81,298.43 L115.62,298.67 L116.44,298.91 L117.26,299.14 L118.08,299.38 L118.89,299.62 L119.71,299.86 L120.53,300.09 L121.34,300.33 L122.16,300.57 L122.98,300.81 L123.80,301.05 L124.61,301.28 L125.43,301.52 L126.25,301.76 L127.07,302.00 L127.88,302.23 L128.70,302.47 L129.52,302.70 L130.34,302.94 L131.16,303.17 L131.98,303.41 L132.80,303.64 L133.62,303.88 L134.44,304.11 L135.26,304.34 L136.08,304.57 L136.91,304.80 L137.73,305.03 L138.55,305.26 L139.38,305.48 L140.20,305.71 L141.03,305.93 L141.86,306.16 L142.68,306.38 L143.51,306.60 L144.34,306.82 L145.17,307.04 L146.00,307.25 L146.84,307.47 L147.67,307.68 L148.50,307.89" stroke="#181818" stroke-width="1.15" fill="none" stroke-linejoin="round"/>
<path d="M21.70,220.70 H149.00" stroke="#dcdcdc" stroke-width="1" fill="none"/>
<path d="M22.20,221.20 V394.00 H148.50 V221.20" stroke="#c6c6c6" stroke-width="1" fill="none" stroke-linejoin="miter"/>
<text transform="translate(22.20,403.40) scale(0.93,1.06)" text-anchor="middle">0</text>
<text transform="translate(53.77,403.40) scale(0.93,1.06)" text-anchor="middle">5</text>
<text transform="translate(85.35,403.40) scale(0.93,1.06)" text-anchor="middle">10</text>
<text transform="translate(116.92,403.40) scale(0.93,1.06)" text-anchor="middle">15</text>
<text transform="translate(148.50,403.40) scale(0.93,1.06)" text-anchor="middle">20</text>
<text transform="translate(19.90,396.60) scale(0.93,1.06)" text-anchor="end">0</text>
<text transform="translate(19.90,379.27) scale(0.93,1.06)" text-anchor="end">0.1</text>
<text transform="translate(19.90,361.94) scale(0.93,1.06)" text-anchor="end">0.2</text>
<text transform="translate(19.90,344.61) scale(0.93,1.06)" text-anchor="end">0.3</text>
<text transform="translate(19.90,327.28) scale(0.93,1.06)" text-anchor="end">0.4</text>
<text transform="translate(19.90,309.95) scale(0.93,1.06)" text-anchor="end">0.5</text>
<text transform="translate(19.90,292.62) scale(0.93,1.06)" text-anchor="end">0.6</text>
<text transform="translate(19.90,275.29) scale(0.93,1.06)" text-anchor="end">0.7</text>
<text transform="translate(19.90,257.96) scale(0.93,1.06)" text-anchor="end">0.8</text>
<text transform="translate(19.90,240.63) scale(0.93,1.06)" text-anchor="end">0.9</text>
<text transform="translate(19.90,223.30) scale(0.93,1.06)" text-anchor="end">1</text>
<text transform="translate(151.40,397.90) scale(0.93,1.06)">10<tspan font-size="5.6" dy="-3.0" dx="0.4">-8</tspan></text>
<text transform="translate(151.40,357.60) scale(0.93,1.06)">10<tspan font-size="5.6" dy="-3.0" dx="0.4">-6</tspan></text>
<text transform="translate(151.40,317.30) scale(0.93,1.06)">10<tspan font-size="5.6" dy="-3.0" dx="0.4">-4</tspan></text>
<text transform="translate(151.40,277.00) scale(0.93,1.06)">10<tspan font-size="5.6" dy="-3.0" dx="0.4">-2</tspan></text>
<text transform="translate(151.40,236.70) scale(0.93,1.06)">10<tspan font-size="5.6" dy="-3.0" dx="0.4">0</tspan></text>
<path d="M22.20,394.00 v-1.50 M22.20,220.70 v1.50 M53.77,394.00 v-1.50 M53.77,220.70 v1.50 M85.35,394.00 v-1.50 M85.35,220.70 v1.50 M116.92,394.00 v-1.50 M116.92,220.70 v1.50 M148.50,394.00 v-1.50 M148.50,220.70 v1.50 M22.20,394.00 h1.50 M148.50,394.00 h-1.50 M22.20,376.67 h1.50 M148.50,376.67 h-1.50 M22.20,359.34 h1.50 M148.50,359.34 h-1.50 M22.20,342.01 h1.50 M148.50,342.01 h-1.50 M22.20,324.68 h1.50 M148.50,324.68 h-1.50 M22.20,307.35 h1.50 M148.50,307.35 h-1.50 M22.20,290.02 h1.50 M148.50,290.02 h-1.50 M22.20,272.69 h1.50 M148.50,272.69 h-1.50 M22.20,255.36 h1.50 M148.50,255.36 h-1.50 M22.20,238.03 h1.50 M148.50,238.03 h-1.50 M22.20,220.70 h1.50 M148.50,220.70 h-1.50 M148.50,394.00 h-1.50 M148.50,353.70 h-1.50 M148.50,313.40 h-1.50 M148.50,273.10 h-1.50 M148.50,232.80 h-1.50" stroke="#a4a4a4" stroke-width="0.7" fill="none"/>
<text x="85.35" y="412.60" text-anchor="middle">radial distance / cm</text>
<text x="85.35" y="217.40" text-anchor="middle" font-weight="bold" font-size="5.3" stroke-width="0.1">c)</text>
<text transform="translate(7.30,299.00) rotate(-90)" text-anchor="middle">relative photon fluence</text>
<text transform="translate(173.70,307.55) rotate(-90)" text-anchor="middle">total photon fluence: incident particles / cm<tspan font-size="5.5" dy="-3.9">-2</tspan></text></g>
<g><path d="M235.52,222.10 V395.40 M256.53,222.10 V395.40 M277.55,222.10 V395.40 M298.57,222.10 V395.40 M319.58,222.10 V395.40 M214.50,378.07 H340.60 M214.50,360.74 H340.60 M214.50,343.41 H340.60 M214.50,326.08 H340.60 M214.50,308.75 H340.60 M214.50,291.42 H340.60 M214.50,274.09 H340.60 M214.50,256.76 H340.60 M214.50,239.43 H340.60" stroke="#ececec" stroke-width="0.6" fill="none"/>
<path d="M214.90,238.70 L215.00,239.85 L215.10,241.00 L215.20,242.14 L215.31,243.29 L215.42,244.43 L215.53,245.57 L215.65,246.71 L215.77,247.85 L215.90,248.99 L216.02,250.13 L216.16,251.27 L216.29,252.40 L216.43,253.54 L216.57,254.67 L216.72,255.80 L216.87,256.93 L217.02,258.06 L217.17,259.19 L217.33,260.32 L217.49,261.45 L217.65,262.58 L217.82,263.70 L217.99,264.83 L218.16,265.96 L218.34,267.08 L218.51,268.20 L218.69,269.33 L218.88,270.45 L219.06,271.57 L219.25,272.70 L219.44,273.82 L219.63,274.94 L219.83,276.06 L220.02,277.18 L220.22,278.30 L220.42,279.42 L220.63,280.55 L220.83,281.67 L221.04,282.79 L221.25,283.91 L221.46,285.03 L221.68,286.15 L221.89,287.27 L222.11,288.39 L222.33,289.51 L222.55,290.63 L222.77,291.75 L222.99,292.88 L223.22,294.00 L223.44,295.12 L223.67,296.25 L223.90,297.37 L224.13,298.49 L224.37,299.62 L224.60,300.74 L224.84,301.86 L225.08,302.99 L225.32,304.11 L225.57,305.23 L225.82,306.36 L226.07,307.48 L226.33,308.60 L226.59,309.72 L226.86,310.84 L227.13,311.95 L227.40,313.07 L227.68,314.19 L227.96,315.30 L228.25,316.41 L228.55,317.52 L228.85,318.63 L229.15,319.74 L229.47,320.84 L229.78,321.94 L230.11,323.04 L230.44,324.14 L230.78,325.23 L231.13,326.33 L231.48,327.42 L231.84,328.50 L232.21,329.59 L232.59,330.67 L232.97,331.74 L233.36,332.82 L233.77,333.89 L234.18,334.96 L234.60,336.02 L235.03,337.08 L235.46,338.13 L235.91,339.19 L236.37,340.23 L236.84,341.28 L237.32,342.32 L237.81,343.35 L238.31,344.38 L238.82,345.40 L239.34,346.42 L239.88,347.44 L240.42,348.45 L240.98,349.45 L241.55,350.45 L242.13,351.44 L242.73,352.43 L243.33,353.40 L243.95,354.37 L244.59,355.33 L245.23,356.27 L245.89,357.21 L246.56,358.14 L247.24,359.05 L247.94,359.95 L248.65,360.84 L249.37,361.72 L250.11,362.58 L250.86,363.43 L251.63,364.27 L252.41,365.09 L253.21,365.89 L254.02,366.67 L254.84,367.44 L255.68,368.19 L256.53,368.92 L257.40,369.64 L258.29,370.33 L259.18,371.01 L260.10,371.67 L261.02,372.31 L261.96,372.93 L262.91,373.54 L263.87,374.13 L264.85,374.70 L265.83,375.26 L266.83,375.80 L267.83,376.33 L268.85,376.84 L269.88,377.33 L270.91,377.81 L271.96,378.28 L273.01,378.73 L274.07,379.17 L275.14,379.60 L276.21,380.01 L277.29,380.41 L278.38,380.79 L279.47,381.17 L280.57,381.53 L281.67,381.88 L282.77,382.22 L283.88,382.54 L285.00,382.86 L286.12,383.17 L287.23,383.46 L288.36,383.75 L289.48,384.03 L290.60,384.29 L291.73,384.55 L292.86,384.80 L293.99,385.04 L295.12,385.27 L296.25,385.49 L297.38,385.70 L298.52,385.90 L299.65,386.09 L300.79,386.27 L301.92,386.44 L303.06,386.61 L304.20,386.76 L305.34,386.91 L306.48,387.04 L307.62,387.17 L308.76,387.29 L309.90,387.40 L311.04,387.50 L312.18,387.59 L313.32,387.67 L314.47,387.75 L315.61,387.81 L316.75,387.87 L317.89,387.91 L319.03,387.95 L320.17,387.98 L321.32,388.00 L322.46,388.01 L323.60,388.01 L324.74,388.01 L325.87,387.99 L327.01,387.97 L328.15,387.93 L329.29,387.89 L330.42,387.84 L331.56,387.79 L332.69,387.72 L333.83,387.65 L334.96,387.56 L336.09,387.47 L337.22,387.37 L338.35,387.26 L339.47,387.14 L340.60,387.02" stroke="#4c4c4c" stroke-width="0.75" fill="none" stroke-linejoin="round"/>
<path d="M214.90,378.80 L215.00,377.65 L215.10,376.50 L215.20,375.36 L215.31,374.21 L215.42,373.07 L215.53,371.93 L215.65,370.79 L215.77,369.65 L215.90,368.51 L216.02,367.37 L216.16,366.23 L216.29,365.10 L216.43,363.96 L216.57,362.83 L216.72,361.70 L216.87,360.57 L217.02,359.44 L217.17,358.31 L217.33,357.18 L217.49,356.05 L217.65,354.92 L217.82,353.80 L217.99,352.67 L218.16,351.54 L218.34,350.42 L218.51,349.30 L218.69,348.17 L218.88,347.05 L219.06,345.93 L219.25,344.80 L219.44,343.68 L219.63,342.56 L219.83,341.44 L220.02,340.32 L220.22,339.20 L220.42,338.08 L220.63,336.95 L220.83,335.83 L221.04,334.71 L221.25,333.59 L221.46,332.47 L221.68,331.35 L221.89,330.23 L222.11,329.11 L222.33,327.99 L222.55,326.87 L222.77,325.75 L222.99,324.62 L223.22,323.50 L223.44,322.38 L223.67,321.25 L223.90,320.13 L224.13,319.01 L224.37,317.88 L224.60,316.76 L224.84,315.64 L225.08,314.51 L225.32,313.39 L225.57,312.27 L225.82,311.14 L226.07,310.02 L226.33,308.90 L226.59,307.78 L226.86,306.66 L227.13,305.55 L227.40,304.43 L227.68,303.31 L227.96,302.20 L228.25,301.09 L228.55,299.98 L228.85,298.87 L229.15,297.76 L229.47,296.66 L229.78,295.56 L230.11,294.46 L230.44,293.36 L230.78,292.27 L231.13,291.17 L231.48,290.08 L231.84,289.00 L232.21,287.91 L232.59,286.83 L232.97,285.76 L233.36,284.68 L233.77,283.61 L234.18,282.54 L234.60,281.48 L235.03,280.42 L235.46,279.37 L235.91,278.31 L236.37,277.27 L236.84,276.22 L237.32,275.18 L237.81,274.15 L238.31,273.12 L238.82,272.10 L239.34,271.08 L239.88,270.06 L240.42,269.05 L240.98,268.05 L241.55,267.05 L242.13,266.06 L242.73,265.07 L243.33,264.10 L243.95,263.13 L244.59,262.17 L245.23,261.23 L245.89,260.29 L246.56,259.36 L247.24,258.45 L247.94,257.55 L248.65,256.66 L249.37,255.78 L250.11,254.92 L250.86,254.07 L251.63,253.23 L252.41,252.41 L253.21,251.61 L254.02,250.83 L254.84,250.06 L255.68,249.31 L256.53,248.58 L257.40,247.86 L258.29,247.17 L259.18,246.49 L260.10,245.83 L261.02,245.19 L261.96,244.57 L262.91,243.96 L263.87,243.37 L264.85,242.80 L265.83,242.24 L266.83,241.70 L267.83,241.17 L268.85,240.66 L269.88,240.17 L270.91,239.69 L271.96,239.22 L273.01,238.77 L274.07,238.33 L275.14,237.90 L276.21,237.49 L277.29,237.09 L278.38,236.71 L279.47,236.33 L280.57,235.97 L281.67,235.62 L282.77,235.28 L283.88,234.96 L285.00,234.64 L286.12,234.33 L287.23,234.04 L288.36,233.75 L289.48,233.47 L290.60,233.21 L291.73,232.95 L292.86,232.70 L293.99,232.46 L295.12,232.23 L296.25,232.01 L297.38,231.80 L298.52,231.60 L299.65,231.41 L300.79,231.23 L301.92,231.06 L303.06,230.89 L304.20,230.74 L305.34,230.59 L306.48,230.46 L307.62,230.33 L308.76,230.21 L309.90,230.10 L311.04,230.00 L312.18,229.91 L313.32,229.83 L314.47,229.75 L315.61,229.69 L316.75,229.63 L317.89,229.59 L319.03,229.55 L320.17,229.52 L321.32,229.50 L322.46,229.49 L323.60,229.49 L324.74,229.49 L325.87,229.51 L327.01,229.53 L328.15,229.57 L329.29,229.61 L330.42,229.66 L331.56,229.71 L332.69,229.78 L333.83,229.85 L334.96,229.94 L336.09,230.03 L337.22,230.13 L338.35,230.24 L339.47,230.36 L340.60,230.48" stroke="#161616" stroke-width="1.12" fill="none" stroke-dasharray="2.5 2.9" stroke-linejoin="round"/>
<path d="M214.60,223.00 L214.70,223.88 L214.79,224.76 L214.88,225.64 L214.97,226.52 L215.05,227.40 L215.13,228.28 L215.21,229.15 L215.28,230.03 L215.35,230.91 L215.41,231.79 L215.48,232.66 L215.55,233.54 L215.61,234.42 L215.67,235.30 L215.74,236.17 L215.80,237.05 L215.87,237.94 L215.94,238.82 L216.01,239.70 L216.08,240.58 L216.15,241.47 L216.23,242.36 L216.31,243.25 L216.40,244.14 L216.49,245.03 L216.58,245.93 L216.68,246.82 L216.79,247.72 L216.90,248.62 L217.02,249.53 L217.15,250.43 L217.29,251.34 L217.43,252.25 L217.58,253.15 L217.75,254.06 L217.92,254.96 L218.10,255.86 L218.30,256.75 L218.51,257.64 L218.73,258.52 L218.96,259.40 L219.21,260.27 L219.48,261.13 L219.76,261.98 L220.05,262.83 L220.37,263.66 L220.69,264.48 L221.04,265.29 L221.41,266.08 L221.79,266.87 L222.20,267.64 L222.62,268.39 L223.07,269.12 L223.53,269.84 L224.02,270.55 L224.53,271.24 L225.06,271.91 L225.61,272.57 L226.17,273.21 L226.75,273.83 L227.35,274.45 L227.97,275.05 L228.60,275.64 L229.25,276.21 L229.91,276.77 L230.59,277.32 L231.27,277.86 L231.98,278.39 L232.69,278.90 L233.41,279.41 L234.15,279.90 L234.89,280.39 L235.65,280.87 L236.41,281.34 L237.18,281.80 L237.96,282.25 L238.75,282.69 L239.54,283.13 L240.34,283.56 L241.14,283.99 L241.94,284.41 L242.76,284.82 L243.57,285.23 L244.38,285.63 L245.20,286.03 L246.02,286.42 L246.84,286.81 L247.66,287.20 L248.47,287.59 L249.29,287.97 L250.11,288.35 L250.92,288.73 L251.74,289.10 L252.55,289.48 L253.36,289.85 L254.18,290.21 L254.99,290.58 L255.80,290.94 L256.62,291.30 L257.43,291.66 L258.24,292.01 L259.05,292.36 L259.86,292.71 L260.68,293.06 L261.49,293.40 L262.30,293.74 L263.12,294.08 L263.93,294.41 L264.75,294.75 L265.56,295.08 L266.38,295.40 L267.19,295.73 L268.01,296.05 L268.83,296.37 L269.65,296.68 L270.47,297.00 L271.30,297.31 L272.12,297.62 L272.94,297.92 L273.77,298.22 L274.60,298.52 L275.43,298.82 L276.26,299.12 L277.10,299.41 L277.93,299.70 L278.77,299.98 L279.61,300.27 L280.45,300.55 L281.29,300.83 L282.13,301.10 L282.98,301.38 L283.83,301.65 L284.67,301.92 L285.52,302.19 L286.37,302.45 L287.23,302.72 L288.08,302.98 L288.93,303.24 L289.79,303.50 L290.64,303.76 L291.50,304.02 L292.35,304.27 L293.21,304.53 L294.07,304.78 L294.92,305.03 L295.78,305.28 L296.64,305.54 L297.49,305.79 L298.35,306.04 L299.21,306.28 L300.07,306.53 L300.92,306.78 L301.78,307.03 L302.64,307.28 L303.49,307.52 L304.35,307.77 L305.20,308.02 L306.06,308.27 L306.91,308.52 L307.77,308.76 L308.62,309.01 L309.47,309.26 L310.33,309.51 L311.18,309.76 L312.03,310.02 L312.88,310.27 L313.74,310.52 L314.59,310.78 L315.44,311.03 L316.29,311.29 L317.14,311.55 L317.98,311.81 L318.83,312.07 L319.68,312.33 L320.53,312.60 L321.37,312.87 L322.22,313.13 L323.06,313.40 L323.91,313.68 L324.75,313.95 L325.59,314.23 L326.43,314.51 L327.27,314.79 L328.11,315.07 L328.95,315.36 L329.79,315.65 L330.63,315.94 L331.47,316.24 L332.30,316.53 L333.14,316.83 L333.97,317.14 L334.80,317.45 L335.63,317.76 L336.46,318.07 L337.29,318.39 L338.12,318.71 L338.95,319.03 L339.78,319.36 L340.60,319.69" stroke="#181818" stroke-width="1.15" fill="none" stroke-linejoin="round"/>
<path d="M214.00,222.10 H341.10" stroke="#dcdcdc" stroke-width="1" fill="none"/>
<path d="M214.50,222.60 V395.40 H340.60 V222.60" stroke="#c6c6c6" stroke-width="1" fill="none" stroke-linejoin="miter"/>
<text transform="translate(214.50,404.80) scale(0.93,1.06)" text-anchor="middle">0</text>
<text transform="translate(235.52,404.80) scale(0.93,1.06)" text-anchor="middle">5</text>
<text transform="translate(256.53,404.80) scale(0.93,1.06)" text-anchor="middle">10</text>
<text transform="translate(277.55,404.80) scale(0.93,1.06)" text-anchor="middle">15</text>
<text transform="translate(298.57,404.80) scale(0.93,1.06)" text-anchor="middle">20</text>
<text transform="translate(319.58,404.80) scale(0.93,1.06)" text-anchor="middle">25</text>
<text transform="translate(340.60,404.80) scale(0.93,1.06)" text-anchor="middle">30</text>
<text transform="translate(212.60,398.00) scale(0.93,1.06)" text-anchor="end">0</text>
<text transform="translate(212.60,380.67) scale(0.93,1.06)" text-anchor="end">0.1</text>
<text transform="translate(212.60,363.34) scale(0.93,1.06)" text-anchor="end">0.2</text>
<text transform="translate(212.60,346.01) scale(0.93,1.06)" text-anchor="end">0.3</text>
<text transform="translate(212.60,328.68) scale(0.93,1.06)" text-anchor="end">0.4</text>
<text transform="translate(212.60,311.35) scale(0.93,1.06)" text-anchor="end">0.5</text>
<text transform="translate(212.60,294.02) scale(0.93,1.06)" text-anchor="end">0.6</text>
<text transform="translate(212.60,276.69) scale(0.93,1.06)" text-anchor="end">0.7</text>
<text transform="translate(212.60,259.36) scale(0.93,1.06)" text-anchor="end">0.8</text>
<text transform="translate(212.60,242.03) scale(0.93,1.06)" text-anchor="end">0.9</text>
<text transform="translate(212.60,224.70) scale(0.93,1.06)" text-anchor="end">1</text>
<text transform="translate(343.50,399.30) scale(0.93,1.06)">10<tspan font-size="5.6" dy="-3.0" dx="0.4">-8</tspan></text>
<text transform="translate(343.50,359.00) scale(0.93,1.06)">10<tspan font-size="5.6" dy="-3.0" dx="0.4">-6</tspan></text>
<text transform="translate(343.50,318.70) scale(0.93,1.06)">10<tspan font-size="5.6" dy="-3.0" dx="0.4">-4</tspan></text>
<text transform="translate(343.50,278.40) scale(0.93,1.06)">10<tspan font-size="5.6" dy="-3.0" dx="0.4">-2</tspan></text>
<text transform="translate(343.50,238.10) scale(0.93,1.06)">10<tspan font-size="5.6" dy="-3.0" dx="0.4">0</tspan></text>
<path d="M214.50,395.40 v-1.50 M214.50,222.10 v1.50 M235.52,395.40 v-1.50 M235.52,222.10 v1.50 M256.53,395.40 v-1.50 M256.53,222.10 v1.50 M277.55,395.40 v-1.50 M277.55,222.10 v1.50 M298.57,395.40 v-1.50 M298.57,222.10 v1.50 M319.58,395.40 v-1.50 M319.58,222.10 v1.50 M340.60,395.40 v-1.50 M340.60,222.10 v1.50 M214.50,395.40 h1.50 M340.60,395.40 h-1.50 M214.50,378.07 h1.50 M340.60,378.07 h-1.50 M214.50,360.74 h1.50 M340.60,360.74 h-1.50 M214.50,343.41 h1.50 M340.60,343.41 h-1.50 M214.50,326.08 h1.50 M340.60,326.08 h-1.50 M214.50,308.75 h1.50 M340.60,308.75 h-1.50 M214.50,291.42 h1.50 M340.60,291.42 h-1.50 M214.50,274.09 h1.50 M340.60,274.09 h-1.50 M214.50,256.76 h1.50 M340.60,256.76 h-1.50 M214.50,239.43 h1.50 M340.60,239.43 h-1.50 M214.50,222.10 h1.50 M340.60,222.10 h-1.50 M340.60,395.40 h-1.50 M340.60,355.10 h-1.50 M340.60,314.80 h-1.50 M340.60,274.50 h-1.50 M340.60,234.20 h-1.50" stroke="#a4a4a4" stroke-width="0.7" fill="none"/>
<text x="277.55" y="414.00" text-anchor="middle">radial distance / cm</text>
<text x="277.55" y="218.80" text-anchor="middle" font-weight="bold" font-size="5.3" stroke-width="0.1">d)</text>
<text transform="translate(199.40,301.80) rotate(-90)" text-anchor="middle">relative photon fluence</text>
<text transform="translate(365.80,308.95) rotate(-90)" text-anchor="middle">total photon fluence: incident particles / cm<tspan font-size="5.5" dy="-3.9">-2</tspan></text></g>
<g><rect x="61.5" y="12.5" width="84" height="24" fill="#fff" stroke="#cecece" stroke-width="1"/>
<path d="M63.60,17.30 H74.8" stroke="#5a5a5a" stroke-width="0.7" fill="none"/>
<text x="75.50" y="19.10" text-anchor="start" font-size="6.3">primary photon fluence</text>
<path d="M64.00,24.50 H74.8" stroke="#111" stroke-width="1" fill="none" stroke-dasharray="2.6 3.3"/>
<text x="75.50" y="26.60" text-anchor="start" font-size="6.3">scattered photon fluence</text>
<path d="M63.60,31.90 H74.8" stroke="#181818" stroke-width="1.15" fill="none"/>
<text x="75.50" y="34.00" text-anchor="start" font-size="6.3">total photon fluence</text></g>
</svg>
</body></html>
